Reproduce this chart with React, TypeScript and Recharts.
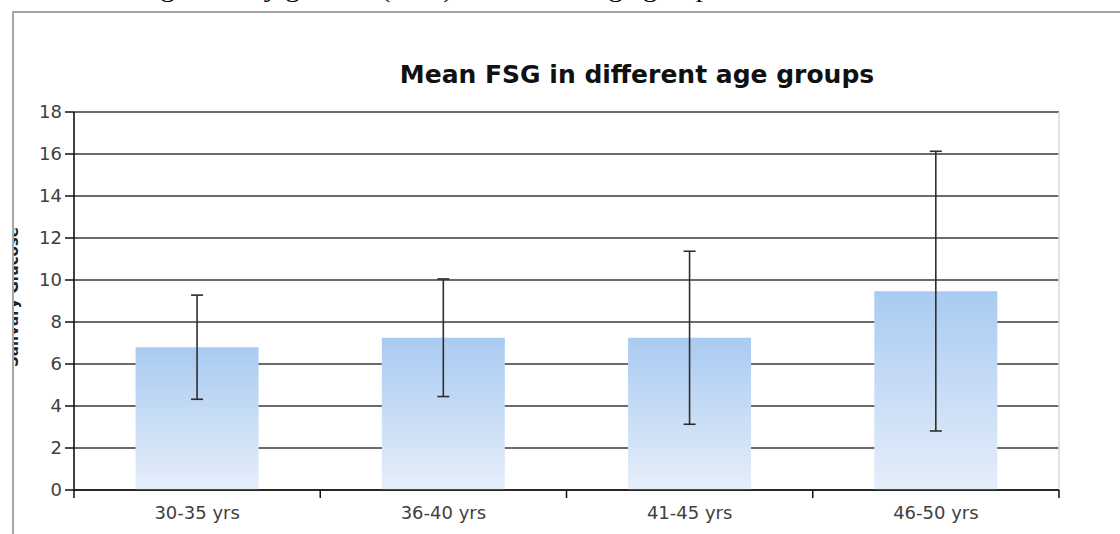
import React from 'react';
import { BarChart, Bar, XAxis, YAxis, CartesianGrid, ErrorBar } from 'recharts';

const ageGroups = ['30-35 yrs', '36-40 yrs', '41-45 yrs', '46-50 yrs'];
const meanFsg = [6.8, 7.25, 7.25, 9.47];
const sdFsg = [2.48, 2.8, 4.12, 6.66];
const yTicks = [0, 2, 4, 6, 8, 10, 12, 14, 16, 18];

const data = ageGroups.map((group, i) => ({ group, mean: meanFsg[i], sd: sdFsg[i] }));

const W = 1120;
const H = 534;
const margin = { top: 112, right: 61, bottom: 0, left: 0 };
const Y_AXIS_W = 74;
const X_AXIS_H = 44;
const PLOT_BOTTOM = H - margin.bottom - X_AXIS_H;
const BAND_HALF = (W - margin.left - margin.right - Y_AXIS_W) / ageGroups.length / 2;

const labelFont = '"DejaVu Sans", sans-serif';

// label in the middle of the band, tick marks on the band edges
const XTick = (props: any) => {
  const { x, payload, index } = props;
  return (
    <g>
      <text x={x} y={519} textAnchor="middle" fill="#404040" fontSize={18} fontFamily={labelFont}>
        {payload.value}
      </text>
      <line x1={x + BAND_HALF} x2={x + BAND_HALF} y1={PLOT_BOTTOM} y2={PLOT_BOTTOM + 8} stroke="#111" strokeWidth={1.5} />
      {index === 0 && (
        <line x1={x - BAND_HALF} x2={x - BAND_HALF} y1={PLOT_BOTTOM} y2={PLOT_BOTTOM + 8} stroke="#111" strokeWidth={1.5} />
      )}
    </g>
  );
};

export default function App() {
  return (
    <div style={{ position: 'absolute', left: 0, top: 0, width: W, height: H, background: '#fff', overflow: 'hidden' }}>
      <BarChart width={W} height={H} data={data} margin={margin} barCategoryGap="25%">
        <defs>
          <linearGradient id="barFill" x1="0" y1="0" x2="0" y2="1">
            <stop offset="0%" stopColor="#a9cbf1" />
            <stop offset="100%" stopColor="#e6eefa" />
          </linearGradient>
        </defs>
        <CartesianGrid vertical={false} stroke="#3a3a3a" strokeWidth={1.6} />
        <CartesianGrid
          horizontal={false}
          stroke="#d9d9d9"
          strokeWidth={1.5}
          verticalCoordinatesGenerator={({ offset }: any) => [offset.left + offset.width]}
        />
        <XAxis
          dataKey="group"
          height={X_AXIS_H}
          tickLine={false}
          axisLine={{ stroke: '#111', strokeWidth: 1.6 }}
          tick={<XTick />}
          interval={0}
        />
        <YAxis
          width={Y_AXIS_W}
          domain={[0, 18]}
          ticks={yTicks}
          interval={0}
          tickSize={9}
          tickMargin={3}
          axisLine={{ stroke: '#111', strokeWidth: 1.6 }}
          tickLine={{ stroke: '#111', strokeWidth: 1.5 }}
          tick={{ fill: '#404040', fontSize: 18, fontFamily: labelFont }}
        />
        <Bar dataKey="mean" fill="url(#barFill)" isAnimationActive={false}>
          <ErrorBar dataKey="sd" width={6} stroke="#2e2e2e" strokeWidth={1.6} direction="y" />
        </Bar>
      </BarChart>

      <svg width={W} height={H} style={{ position: 'absolute', left: 0, top: 0, pointerEvents: 'none' }}>
        <text
          x={81}
          y={-3.5}
          transform="scale(1.11 1)"
          fontFamily='"Liberation Serif", serif'
          fontSize={26}
          fill="#000"
        >
          Fasting Salivary glucose (FSG) in different age groups
        </text>
        <text x={637} y={83} textAnchor="middle" fontFamily={labelFont} fontWeight="bold" fontSize={25} fill="#111">
          Mean FSG in different age groups
        </text>
        <text
          transform="translate(18 297) rotate(-90)"
          textAnchor="middle"
          fontFamily={labelFont}
          fontWeight="bold"
          fontSize={15}
          fill="#222"
        >
          Salivary Glucose
        </text>
      </svg>

      {/* frame clips the axis title on the left */}
      <div style={{ position: 'absolute', left: 0, top: 12, width: 12, height: H, background: '#fff' }} />
      <div
        style={{
          position: 'absolute',
          left: 12,
          top: 11,
          width: W,
          height: H,
          borderLeft: '2px solid #a6a6a6',
          borderTop: '2px solid #a6a6a6',
        }}
      />
    </div>
  );
}
